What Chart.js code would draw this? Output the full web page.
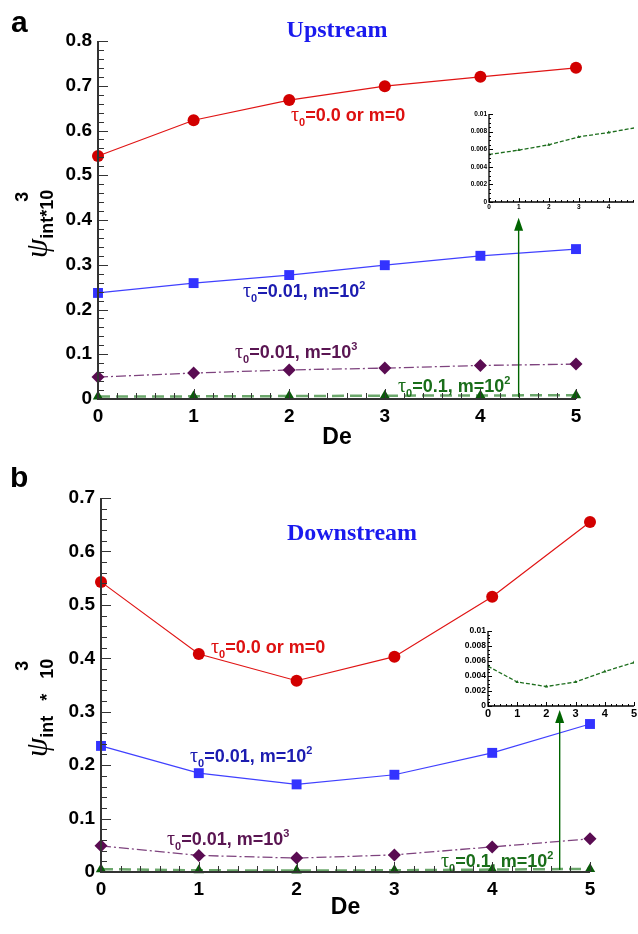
<!DOCTYPE html>
<html>
<head>
<meta charset="utf-8">
<script src="https://cdn.jsdelivr.net/npm/chart.js@4.4.0/dist/chart.umd.min.js"></script>
<style>
  body { margin: 0; background: #fff; }
  #wrap { position: relative; width: 638px; height: 934px; overflow: hidden; }
  canvas { position: absolute; }
</style>
</head>
<body>
<div id="wrap">
  <canvas id="mainA" width="638" height="467" style="left:0;top:0;width:638px;height:467px"></canvas>
  <canvas id="mainB" width="638" height="467" style="left:0;top:467px;width:638px;height:467px"></canvas>
  <canvas id="insetA" width="183" height="110" style="left:455px;top:104px;width:183px;height:110px"></canvas>
  <canvas id="insetB" width="188" height="102" style="left:450px;top:620px;width:188px;height:102px"></canvas>
</div>
<script>
// Deborah number (x axis)
const deValues = [0, 1, 2, 3, 4, 5];

// panel a, upstream
const upRed = [0.543, 0.623, 0.668, 0.699, 0.720, 0.740];
const upBlue = [0.237, 0.259, 0.277, 0.299, 0.320, 0.335];
const upPurple = [0.049, 0.058, 0.065, 0.069, 0.075, 0.078];
const upGreen = [0.0054, 0.0059, 0.0065, 0.0074, 0.0079, 0.0085];

// panel b, downstream
const downRed = [0.543, 0.408, 0.358, 0.403, 0.515, 0.655];
const downBlue = [0.236, 0.185, 0.164, 0.182, 0.223, 0.277];
const downPurple = [0.049, 0.031, 0.026, 0.032, 0.047, 0.062];
const downGreen = [0.0053, 0.0032, 0.0026, 0.0032, 0.0046, 0.0058];

// series labels (text pieces)
const lblRed = [["τ", "g"], ["0", "sub"], ["=0.0 or m=0", "n"]];
const lblBlue = [["τ", "g"], ["0", "sub"], ["=0.01, m=10", "n"], ["2", "sup"]];
const lblPurple = [["τ", "g"], ["0", "sub"], ["=0.01, m=10", "n"], ["3", "sup"]];
const lblGreen = [["τ", "g"], ["0", "sub"], ["=0.1, m=10", "n"], ["2", "sup"]];

const SANS = '"Liberation Sans", Arial, sans-serif';
const SERIF = '"Liberation Serif", "Times New Roman", serif';

const pts = (arr) => deValues.map((x, i) => ({ x: x, y: arr[i] }));

// draws text made of normal / greek / sub / sup pieces
function richText(ctx, x, y, parts, size, color) {
    ctx.fillStyle = color;
    ctx.textAlign = "left";
    ctx.textBaseline = "alphabetic";
    let cx = x;
    parts.forEach(([txt, kind]) => {
        let dy = 0;
        if (kind === "g") ctx.font = `${size + 2}px ${SERIF}`;
        else if (kind === "sub") { ctx.font = `bold ${Math.round(size * 0.62)}px ${SANS}`; dy = size * 0.3; }
        else if (kind === "sup") { ctx.font = `bold ${Math.round(size * 0.62)}px ${SANS}`; dy = -size * 0.45; }
        else ctx.font = `bold ${size}px ${SANS}`;
        ctx.fillText(txt, cx, y + dy);
        cx += ctx.measureText(txt).width;
    });
}

// inward ticks + axis lines
const inwardTicks = {
    id: "inwardTicks",
    afterDraw(chart, args, o) {
        const { ctx } = chart;
        const xs = chart.scales.x, ys = chart.scales.y;
        ctx.save();
        ctx.strokeStyle = o.color;
        ctx.lineWidth = o.tickWidth;
        const nx = Math.round((o.xEnd - xs.min) / o.xMinor);
        for (let i = 0; i <= nx; i++) {
            const v = xs.min + i * o.xMinor;
            const major = i % o.xEvery === 0;
            const px = Math.round(xs.getPixelForValue(v)) + 0.5;
            ctx.beginPath();
            ctx.moveTo(px, ys.bottom);
            ctx.lineTo(px, ys.bottom - (major ? o.majorLen : o.minorLen));
            ctx.stroke();
        }
        const ny = Math.round((ys.max - ys.min) / o.yMinor);
        for (let i = 0; i <= ny; i++) {
            const v = ys.min + i * o.yMinor;
            const major = i % o.yEvery === 0;
            const py = Math.round(ys.getPixelForValue(v)) + 0.5;
            ctx.beginPath();
            ctx.moveTo(xs.left, py);
            ctx.lineTo(xs.left + (major ? o.majorLen : o.minorLen), py);
            ctx.stroke();
        }
        ctx.lineWidth = o.axisWidth;
        ctx.beginPath();
        ctx.moveTo(xs.left, ys.top);
        ctx.lineTo(xs.left, ys.bottom);
        ctx.lineTo(xs.right, ys.bottom);
        ctx.stroke();
        ctx.restore();
    }
};

// titles, series labels, arrow, y axis title
const decor = {
    id: "decor",
    afterDatasetsDraw(chart, args, o) {
        const { ctx } = chart;
        const xs = chart.scales.x, ys = chart.scales.y;
        ctx.save();
        // panel letter
        ctx.fillStyle = "#000";
        ctx.font = `bold 30px ${SANS}`;
        ctx.textAlign = "left";
        ctx.fillText(o.letter.text, o.letter.x, o.letter.y);
        // title
        ctx.fillStyle = "#1a1aee";
        ctx.font = `bold 24px ${SERIF}`;
        ctx.textAlign = "center";
        ctx.fillText(o.title.text, o.title.x, o.title.y);
        // series labels
        o.labels.forEach((l) => richText(ctx, l.x, l.y, l.parts, 18, l.color));
        // arrow
        const ax = xs.getPixelForValue(o.arrow.x);
        const ay0 = ys.getPixelForValue(o.arrow.y0);
        const ay1 = ys.getPixelForValue(o.arrow.y1);
        ctx.strokeStyle = "#006400";
        ctx.fillStyle = "#006400";
        ctx.lineWidth = 1.4;
        ctx.beginPath();
        ctx.moveTo(ax, ay0);
        ctx.lineTo(ax, ay1 + 10);
        ctx.stroke();
        ctx.beginPath();
        ctx.moveTo(ax, ay1);
        ctx.lineTo(ax - 4.5, ay1 + 13);
        ctx.lineTo(ax + 4.5, ay1 + 13);
        ctx.closePath();
        ctx.fill();
        // y axis title, rotated
        ctx.translate(o.ytitle.x, o.ytitle.y);
        ctx.rotate(-Math.PI / 2);
        ctx.fillStyle = "#000";
        ctx.textAlign = "left";
        ctx.font = `italic 31px ${SERIF}`;
        ctx.fillText("ψ", 0, 0);
        const pw = ctx.measureText("ψ").width;
        ctx.font = `bold 18px ${SANS}`;
        ctx.fillText(o.ytitle.sub, pw, 6);
        const sw = ctx.measureText(o.ytitle.sub).width;
        ctx.fillText("3", pw + sw - 12, -19);
        ctx.restore();
    }
};

function mainChart(id, cfg) {
    const tickFont = { family: SANS, size: 19, weight: "bold" };
    return new Chart(document.getElementById(id), {
        type: "line",
        data: {
            datasets: [
                {
                    data: pts(cfg.red),
                    borderColor: "#e01414",
                    borderWidth: 1.2,
                    pointStyle: "circle",
                    pointRadius: 6,
                    pointBackgroundColor: "#d20000",
                    pointBorderWidth: 0,
                    clip: false
                },
                {
                    data: pts(cfg.blue),
                    borderColor: "#4040ff",
                    borderWidth: 1.2,
                    pointStyle: "rect",
                    pointRadius: 7,
                    pointBackgroundColor: "#3333ff",
                    pointBorderWidth: 0,
                    clip: false
                },
                {
                    data: pts(cfg.purple),
                    borderColor: "#7e437e",
                    borderWidth: 1.3,
                    borderDash: [10, 3, 2, 3],
                    pointStyle: "rectRot",
                    pointRadius: 6.5,
                    pointBackgroundColor: "#5a0c52",
                    pointBorderWidth: 0,
                    clip: false
                },
                {
                    data: pts(cfg.green),
                    borderColor: "rgba(70,145,70,0.8)",
                    borderWidth: 2.5,
                    borderDash: [12, 6],
                    pointStyle: "triangle",
                    pointRadius: 6,
                    pointBackgroundColor: "#0a5a0a",
                    pointBorderWidth: 0,
                    clip: false
                }
            ]
        },
        options: {
            responsive: false,
            animation: false,
            events: [],
            layout: { padding: { left: 0, right: 638 - cfg.right, top: cfg.top, bottom: 0 } },
            plugins: {
                legend: { display: false },
                tooltip: { enabled: false },
                inwardTicks: {
                    color: "#333", tickWidth: 1, axisWidth: 2,
                    xMinor: 0.2, xEvery: 5, xEnd: 5,
                    yMinor: 0.02, yEvery: 5,
                    majorLen: 10, minorLen: 6
                },
                decor: cfg.decor
            },
            scales: {
                x: {
                    type: "linear",
                    min: 0,
                    max: 5,
                    grid: { display: false, drawTicks: false },
                    border: { display: false },
                    ticks: { stepSize: 1, font: tickFont, color: "#000", padding: 6 },
                    title: {
                        display: true,
                        text: "De",
                        color: "#000",
                        font: { family: SANS, size: 23, weight: "bold" },
                        padding: { top: 0, bottom: cfg.deBottom }
                    },
                    afterFit: (s) => { s.height = 467 - cfg.bottom; }
                },
                y: {
                    min: 0,
                    max: cfg.yMax,
                    grid: { display: false, drawTicks: false },
                    border: { display: false },
                    ticks: {
                        stepSize: 0.1,
                        font: tickFont,
                        color: "#000",
                        padding: 6,
                        callback: (v) => (v === 0 ? "0" : v.toFixed(1))
                    },
                    afterFit: (s) => { s.width = cfg.left; }
                }
            }
        },
        plugins: [inwardTicks, decor]
    });
}

function insetChart(id, cfg) {
    return new Chart(document.getElementById(id), {
        type: "line",
        data: {
            datasets: [
                {
                    data: pts(cfg.values),
                    borderColor: "#1e6e1e",
                    borderWidth: 1.3,
                    borderDash: [4, 2],
                    pointStyle: "triangle",
                    pointRadius: 2,
                    pointBackgroundColor: "#1e6e1e",
                    pointBorderWidth: 0
                }
            ]
        },
        options: {
            responsive: false,
            animation: false,
            events: [],
            layout: { padding: { left: 0, right: cfg.padRight, top: cfg.top, bottom: 0 } },
            plugins: {
                legend: { display: false },
                tooltip: { enabled: false },
                inwardTicks: {
                    color: "#000", tickWidth: 1, axisWidth: 1.3,
                    xMinor: 0.2, xEvery: 5, xEnd: cfg.xMax,
                    yMinor: 0.0005, yEvery: 4,
                    majorLen: 4, minorLen: 2
                }
            },
            scales: {
                x: {
                    type: "linear",
                    min: 0,
                    max: cfg.xMax,
                    grid: { display: false, drawTicks: false },
                    border: { display: false },
                    ticks: {
                        stepSize: 1,
                        autoSkip: false,
                        padding: 1,
                        color: "#000",
                        font: { family: SANS, size: cfg.xFont, weight: "bold" },
                        callback: (v) => (Number.isInteger(v) ? String(v) : "")
                    },
                    afterFit: (s) => { s.height = cfg.h - cfg.bottom; }
                },
                y: {
                    min: 0,
                    max: 0.01,
                    grid: { display: false, drawTicks: false },
                    border: { display: false },
                    ticks: {
                        stepSize: 0.002,
                        autoSkip: false,
                        padding: 2,
                        color: "#000",
                        font: { family: SANS, size: cfg.yFont, weight: "bold" },
                        callback: (v) => (v === 0 ? "0" : String(+v.toFixed(3)))
                    },
                    afterFit: (s) => { s.width = cfg.left; }
                }
            }
        },
        plugins: [inwardTicks]
    });
}

mainChart("mainA", {
    red: upRed, blue: upBlue, purple: upPurple, green: upGreen,
    yMax: 0.8, left: 98, right: 576, top: 41, bottom: 399, deBottom: 16,
    decor: {
        letter: { text: "a", x: 11, y: 32 },
        title: { text: "Upstream", x: 337, y: 37 },
        ytitle: { x: 47, y: 258, sub: "int*10" },
        arrow: { x: 4.4, y0: 0.004, y1: 0.405 },
        labels: [
            { x: 291, y: 121, color: "#dd1111", parts: lblRed },
            { x: 243, y: 297, color: "#1c1cb0", parts: lblBlue },
            { x: 235, y: 358, color: "#5a1552", parts: lblPurple },
            { x: 398, y: 392, color: "#1a6e1a", parts: lblGreen }
        ]
    }
});

mainChart("mainB", {
    red: downRed, blue: downBlue, purple: downPurple, green: downGreen,
    yMax: 0.7, left: 101, right: 590, top: 31, bottom: 405, deBottom: 13,
    decor: {
        letter: { text: "b", x: 10, y: 20 },
        title: { text: "Downstream", x: 352, y: 73 },
        ytitle: { x: 47, y: 290, sub: "int   *   10" },
        arrow: { x: 4.69, y0: 0.004, y1: 0.303 },
        labels: [
            { x: 211, y: 186, color: "#dd1111", parts: lblRed },
            { x: 190, y: 295, color: "#1c1cb0", parts: lblBlue },
            { x: 167, y: 378, color: "#5a1552", parts: lblPurple },
            { x: 441, y: 400, color: "#1a6e1a", parts: lblGreen }
        ]
    }
});

insetChart("insetA", {
    values: upGreen, xMax: 4.85, left: 34, top: 10, bottom: 98, h: 110, padRight: 2,
    xFont: 6.5, yFont: 6.5
});

insetChart("insetB", {
    values: downGreen, xMax: 5, left: 38, top: 11, bottom: 86, h: 102, padRight: 1,
    xFont: 11, yFont: 8.5
});
</script>
</body>
</html>
